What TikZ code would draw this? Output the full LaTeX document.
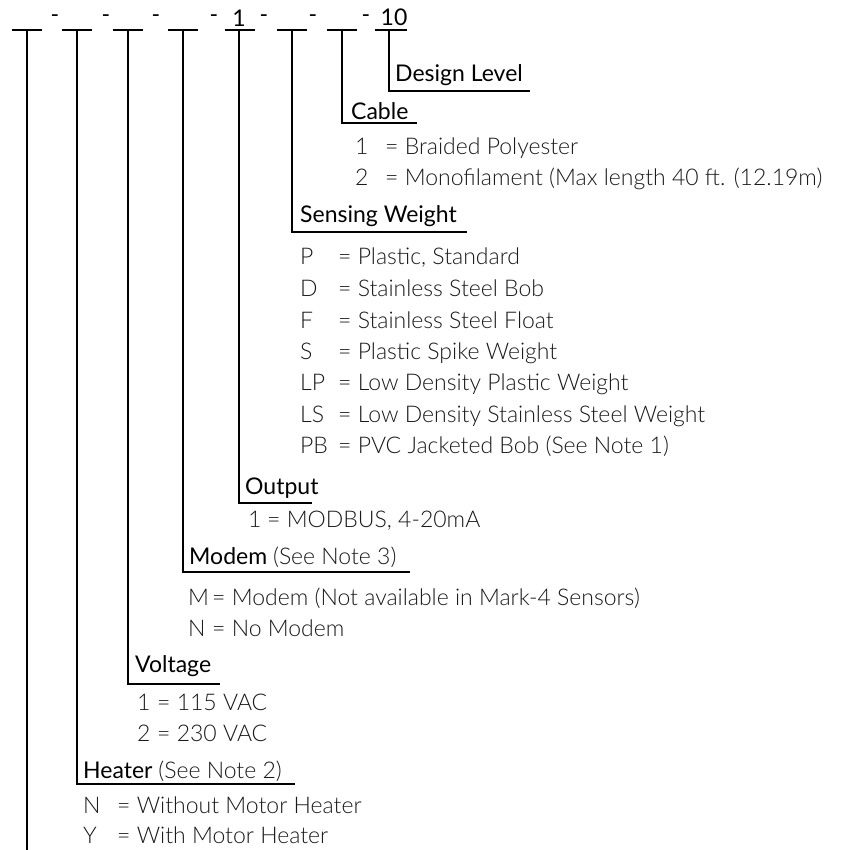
\documentclass[tikz,border=0pt]{standalone}
\usepackage{fontspec}
\IfFontExistsTF{Lato Light}{\newfontfamily\lightf{Lato Light}}{\newfontfamily\lightf{Lato}}
\newfontfamily\headf{Lato}
\tikzset{
  rule/.style={line width=2.6pt},
  head/.style={anchor=base west, inner sep=0pt, font=\headf\fontsize{23}{27}\selectfont, text=black},
  opt/.style={anchor=base west, inner sep=0pt, font=\lightf\fontsize{23}{27}\selectfont, text=black!90},
  digit/.style={anchor=base, inner sep=0pt, font=\headf\fontsize{23}{27}\selectfont, text=black},
}
\newcommand\optrow[6]{%
  \node[opt] (#1k) at (#2,#4) {#5};
  \node[opt] (#1) at (#3,#4) {= #6};}
\begin{document}
\begin{tikzpicture}[x=1pt,y=-1pt]
\useasboundingbox (0,0) rectangle (851,850);
% top row bars
\foreach \i/\c in {1/27,2/77,3/128,4/183,5/239,6/292,7/342,8/389}{
  \coordinate (v\i) at (\c,30);
}
\foreach \a/\b [count=\n] in {12/42,62/92,113/143,168/198,225/255,277/307,327/357,375/407}{
  \coordinate (bl\n) at (\a,30);
  \coordinate (br\n) at (\b,30);
  \draw[rule] (bl\n) -- (br\n);
}
% dashes and digits
\foreach \x [count=\n] in {55,106,156,214,264,313,366}{
  \node[digit] (d\n) at (\x,23) {-};
}
\node[digit] (one) at (239,27) {1};
\node[digit] (ten) at (394,26) {10};
% connector ends
\coordinate (e1) at (27,850);
\coordinate (u2) at (295,784);
\coordinate (u3) at (220,684);
\coordinate (u4) at (410,572);
\coordinate (u5) at (312,503);
\coordinate (u6) at (467,232);
\coordinate (u7) at (417,123);
\coordinate (u8) at (530,91);
\draw[rule] (v1) -- (e1);
\foreach \i in {2,...,8}{
  \draw[rule] (v\i) |- (u\i);
}
% headings
\node[head] (design) at (395,82) {Design Level};
\node[head] (cable) at (351,120) {Cable};
\node[head] (sensing) at (300,223) {Sensing Weight};
\node[head] (output) at (245,494) {Output};
\node[head] (modem) at (189,564) {Modem {\lightf\color{black!90}(See Note 3)}};
\node[head] (voltage) at (135,672) {Voltage};
\node[head] (heater) at (83,778) {Heater {\lightf\color{black!90}(See Note 2)}};
% options
\optrow{c1}{355}{385}{155}{1}{Braided Polyester}
\optrow{c2}{355}{385}{186}{2}{Monofilament (Max length 40 ft. (12.19m)}
\optrow{s1}{300}{338}{265}{P}{Plastic, Standard}
\optrow{s2}{300}{338}{296}{D}{Stainless Steel Bob}
\optrow{s3}{300}{338}{328}{F}{Stainless Steel Float}
\optrow{s4}{300}{338}{359}{S}{Plastic Spike Weight}
\optrow{s5}{300}{338}{390}{LP}{Low Density Plastic Weight}
\optrow{s6}{300}{338}{422}{LS}{Low Density Stainless Steel Weight}
\optrow{s7}{300}{338}{453}{PB}{PVC Jacketed Bob (See Note 1)}
\optrow{o1}{248}{267}{527}{1}{MODBUS, 4-20mA}
\optrow{m1}{188}{212}{605}{M}{Modem (Not available in Mark-4 Sensors)}
\optrow{m2}{188}{212}{636}{N}{No Modem}
\optrow{t1}{137}{157}{710}{1}{115 VAC}
\optrow{t2}{137}{157}{741}{2}{230 VAC}
\optrow{h1}{83}{117}{813}{N}{Without Motor Heater}
\optrow{h2}{83}{117}{843}{Y}{With Motor Heater}
\end{tikzpicture}
\end{document}
